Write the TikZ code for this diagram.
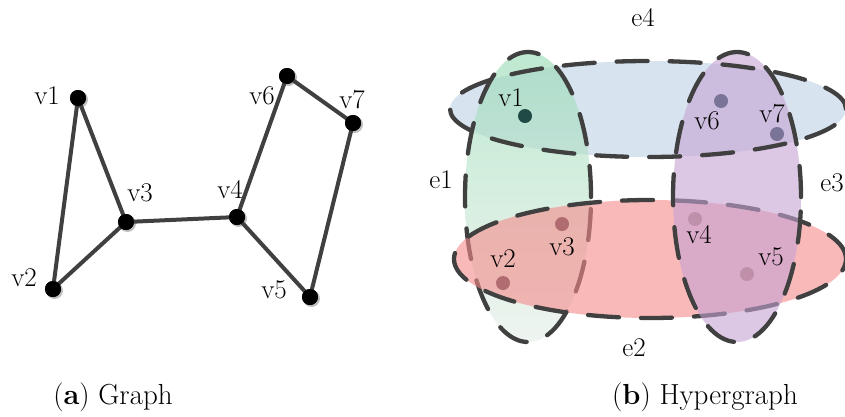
\documentclass[tikz,border=0pt]{standalone}
\usepackage{fontspec}
\usetikzlibrary{calc}
\definecolor{edgegray}{HTML}{404040}
\definecolor{eblue}{HTML}{BCD0E4}
\definecolor{ered}{HTML}{F58A8A}
\definecolor{epurple}{HTML}{C5A3D2}
\definecolor{egreentop}{HTML}{94DAB1}
\definecolor{egreenbot}{HTML}{E3EDE6}
\definecolor{dotteal}{HTML}{1F4A45}
\definecolor{dotviolet}{HTML}{7A7499}
\definecolor{dotred}{HTML}{B06C70}
\definecolor{dotpink}{HTML}{C090AA}
\tikzset{
  lbl/.style={inner sep=0pt, font=\fontsize{27}{31}\selectfont},
  captext/.style={inner sep=0pt, font=\fontsize{29}{34}\selectfont},
  gdot/.style={circle, fill=black, minimum size=16pt, inner sep=0pt},
  hdot/.style={circle, minimum size=14pt, inner sep=0pt},
  gedge/.style={draw=edgegray, line width=4pt},
  hedge/.style={draw=edgegray, line width=4.3pt, line cap=round, dash pattern=on 31pt off 22pt},
  hfill/.style={fill opacity=0.6}
}
\begin{document}
\begin{tikzpicture}[x=1pt,y=-1pt]
\useasboundingbox (0,0) rectangle (845,416);
% ---------- (a) Graph ----------
\foreach \p/\q in {78/98, 53/289, 126/222, 237/217, 310/297, 287/76, 353/123}
  \fill[black!25] (\p+1.5,\q+1.5) circle (8.5pt);
\node[gdot] (a1) at (78,98) {};
\node[gdot] (a2) at (53,289) {};
\node[gdot] (a3) at (126,222) {};
\node[gdot] (a4) at (237,217) {};
\node[gdot] (a5) at (310,297) {};
\node[gdot] (a6) at (287,76) {};
\node[gdot] (a7) at (353,123) {};
\draw[gedge] (a1.center) -- (a2.center);
\draw[gedge] (a1.center) -- (a3.center);
\draw[gedge] (a2.center) -- (a3.center);
\draw[gedge] (a3.center) -- (a4.center);
\draw[gedge] (a4.center) -- (a6.center);
\draw[gedge] (a6.center) -- (a7.center);
\draw[gedge] (a7.center) -- (a5.center);
\draw[gedge] (a4.center) -- (a5.center);
\foreach \n in {a1,a2,a3,a4,a5,a6,a7} \node[gdot] at (\n) {};
\node[lbl] (la1) at (47,96) {v1};
\node[lbl] (la2) at (24,278) {v2};
\node[lbl] (la3) at (140,193) {v3};
\node[lbl] (la4) at (230,190) {v4};
\node[lbl] (la5) at (274,290) {v5};
\node[lbl] (la6) at (262,96) {v6};
\node[lbl] (la7) at (352,100) {v7};
\node[captext] (capa) at (113,397) {(\textbf{a}) Graph};
% ---------- (b) Hypergraph ----------
% e4 fill
\fill[eblue, hfill] (648,109) ellipse [x radius=198pt, y radius=48pt];
% e1
\shade[top color=egreentop, bottom color=egreenbot, hfill] (528,197) ellipse [x radius=63pt, y radius=145pt];
\draw[hedge] (528,197) ellipse [x radius=63pt, y radius=145pt];
% e2
\fill[ered, hfill] (650,259) ellipse [x radius=196pt, y radius=59pt];
\draw[hedge] (650,259) ellipse [x radius=196pt, y radius=59pt];
% e3
\fill[epurple, hfill] (737,197) ellipse [x radius=64pt, y radius=145pt];
\draw[hedge] (737,197) ellipse [x radius=64pt, y radius=145pt];
% e4 outline
\draw[hedge] (648,109) ellipse [x radius=198pt, y radius=48pt];
% vertices
\node[hdot, fill=dotteal] (b1) at (525,116) {};
\node[hdot, fill=dotred] (b2) at (503,283) {};
\node[hdot, fill=dotred] (b3) at (562,224) {};
\node[hdot, fill=dotpink] (b4) at (695,219) {};
\node[hdot, fill=dotpink] (b5) at (747,274) {};
\node[hdot, fill=dotviolet] (b6) at (721,101) {};
\node[hdot, fill=dotviolet] (b7) at (777,134) {};
\node[lbl] (lb1) at (511,98) {v1};
\node[lbl] (lb2) at (503,259) {v2};
\node[lbl] (lb3) at (562,247) {v3};
\node[lbl] (lb4) at (699,235) {v4};
\node[lbl] (lb5) at (771,257) {v5};
\node[lbl] (lb6) at (707,121) {v6};
\node[lbl] (lb7) at (772,114) {v7};
\node[lbl] (le1) at (441,180) {e1};
\node[lbl] (le2) at (634,348) {e2};
\node[lbl, anchor=east] (le3) at (844,183) {e3};
\node[lbl] (le4) at (643,18) {e4};
\node[captext] (capb) at (705,397) {(\textbf{b}) Hypergraph};
\end{tikzpicture}
\end{document}
